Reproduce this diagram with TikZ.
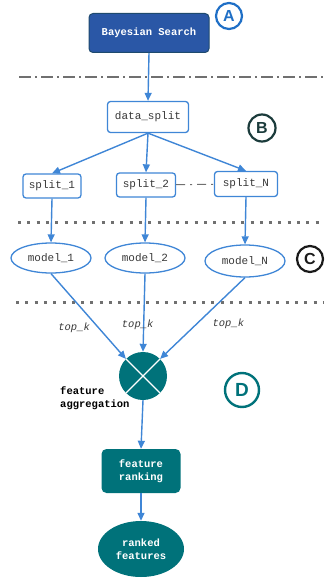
\documentclass[tikz,border=0pt]{standalone}
\usepackage{fontspec}
\setmonofont{Liberation Mono}
\newfontfamily\tagfont{Liberation Sans}
\usetikzlibrary{shapes.geometric,arrows.meta}
\definecolor{bsblue}{HTML}{2A57A6}
\definecolor{bsedge}{HTML}{1E4A6E}
\definecolor{lnblue}{HTML}{3F86D6}
\definecolor{aggteal}{HTML}{00727A}
\definecolor{sepgray}{HTML}{707070}
\definecolor{txtgray}{HTML}{383838}
\definecolor{tagA}{HTML}{1F6FC6}
\definecolor{tagB}{HTML}{1B3B3B}
\definecolor{tagC}{HTML}{1A1A1A}

\begin{document}
\begin{tikzpicture}[x=1pt,y=1pt,
  box/.style={draw=lnblue,line width=1.3pt,rounded corners=3pt,fill=white,text=txtgray,
    font=\ttfamily\fontsize{11}{13}\selectfont,minimum height=24pt,inner sep=2pt},
  oval/.style={ellipse,draw=lnblue,line width=1.3pt,text=txtgray,
    font=\ttfamily\fontsize{11}{13}\selectfont,minimum width=80pt,minimum height=30pt,inner sep=0pt},
  tealbox/.style={fill=aggteal,text=white,align=center,
    font=\ttfamily\bfseries\fontsize{10.5}{13}\selectfont},
  tag/.style={circle,draw,line width=2.2pt,inner sep=0pt,minimum size=26pt,
    font=\tagfont\bfseries\fontsize{16}{16}\selectfont},
  edge/.style={draw=lnblue,line width=1.4pt,-{Triangle[length=8pt,width=7pt]}},
  topk/.style={text=txtgray,font=\ttfamily\itshape\fontsize{10.5}{12}\selectfont},
  dashdot/.style={draw=sepgray,line width=1.3pt,dash pattern=on 12pt off 4pt on 2pt off 4pt},
  dots/.style={draw=sepgray,line width=3pt,dash pattern=on 3pt off 6.3pt}]
\useasboundingbox (0,0) rectangle (324,-578);
% search
\node[fill=bsblue,draw=bsedge,line width=1pt,rounded corners=4pt,text=white,
  font=\ttfamily\bfseries\fontsize{10.5}{13}\selectfont,
  minimum width=120pt,minimum height=39pt] (BS) at (149,-33) {Bayesian Search};
\node[tag,draw=tagA,text=tagA] (TA) at (229,-16) {A};
\draw[dashdot] (19,-77) -- (324,-77);
% splitting
\node[box,minimum width=81pt,minimum height=31pt] (DS) at (148,-117) {data\_split};
\node[tag,draw=tagB,text=tagB,minimum size=27pt] (TB) at (262,-128) {B};
\node[box,minimum width=58pt] (S1) at (52,-186) {split\_1};
\node[box,minimum width=59pt] (S2) at (146,-185) {split\_2};
\node[box,minimum width=63pt,minimum height=25pt] (SN) at (246,-184) {split\_N};
\draw[dashdot,line width=1pt,dash pattern=on 9pt off 5pt on 2pt off 5pt] (S2) -- (SN);
\draw[dots] (18,-222) -- (324,-222);
% models
\node[oval] (M1) at (51,-258) {model\_1};
\node[oval] (M2) at (145,-258) {model\_2};
\node[oval,minimum height=32pt] (MN) at (245,-261) {model\_N};
\node[tag,draw=tagC,text=tagC] (TC) at (310,-259) {C};
\draw[dots] (16,-302) -- (324,-302);
% aggregation
\node[circle,fill=aggteal,minimum size=48pt,inner sep=0pt] (AG) at (143,-376) {};
\draw[white,line width=1.2pt] (AG.north west) -- (AG.south east)
  (AG.north east) -- (AG.south west);
\node[anchor=north west,align=left,inner sep=0pt,
  font=\ttfamily\bfseries\fontsize{10.5}{13}\selectfont] (FA) at (60,-387) {feature\\aggregation};
\node[tag,draw=aggteal,text=aggteal,minimum size=34pt,line width=2.4pt,
  font=\tagfont\bfseries\fontsize{19}{19}\selectfont] (TD) at (242,-390) {D};
\node[tealbox,rounded corners=5pt,minimum width=79pt,minimum height=44pt] (FR) at (141,-471) {feature\\ranking};
\node[tealbox,ellipse,minimum width=86pt,minimum height=56pt,inner sep=0pt] (RF) at (141,-549) {ranked\\features};
%%%%%%%%%%%%%%%%%%%%%%%%%%%%%%
\draw[edge] (BS.south) -- (DS.north);
\draw[edge] (DS.south) -- (S1.north);
\draw[edge] (DS.south) -- (S2.north);
\draw[edge] (DS.south) -- (SN.north);
\draw[edge] (S1.south) -- (M1.north);
\draw[edge] (S2.south) -- (M2.north);
\draw[edge] (SN.south) -- (MN.north);
\draw[edge] (M1.south) -- (AG.north west) node[topk,pos=.64,left=5pt] {top\_k};
\draw[edge] (M2.south) -- (AG.north) node[topk,pos=.66,xshift=-6pt] {top\_k};
\draw[edge] (MN.south) -- (AG.north east) node[topk,pos=.57,right=12pt] {top\_k};
\draw[edge] (AG.south) -- (FR.north);
\draw[edge] (FR.south) -- (RF.north);
\end{tikzpicture}
\end{document}
